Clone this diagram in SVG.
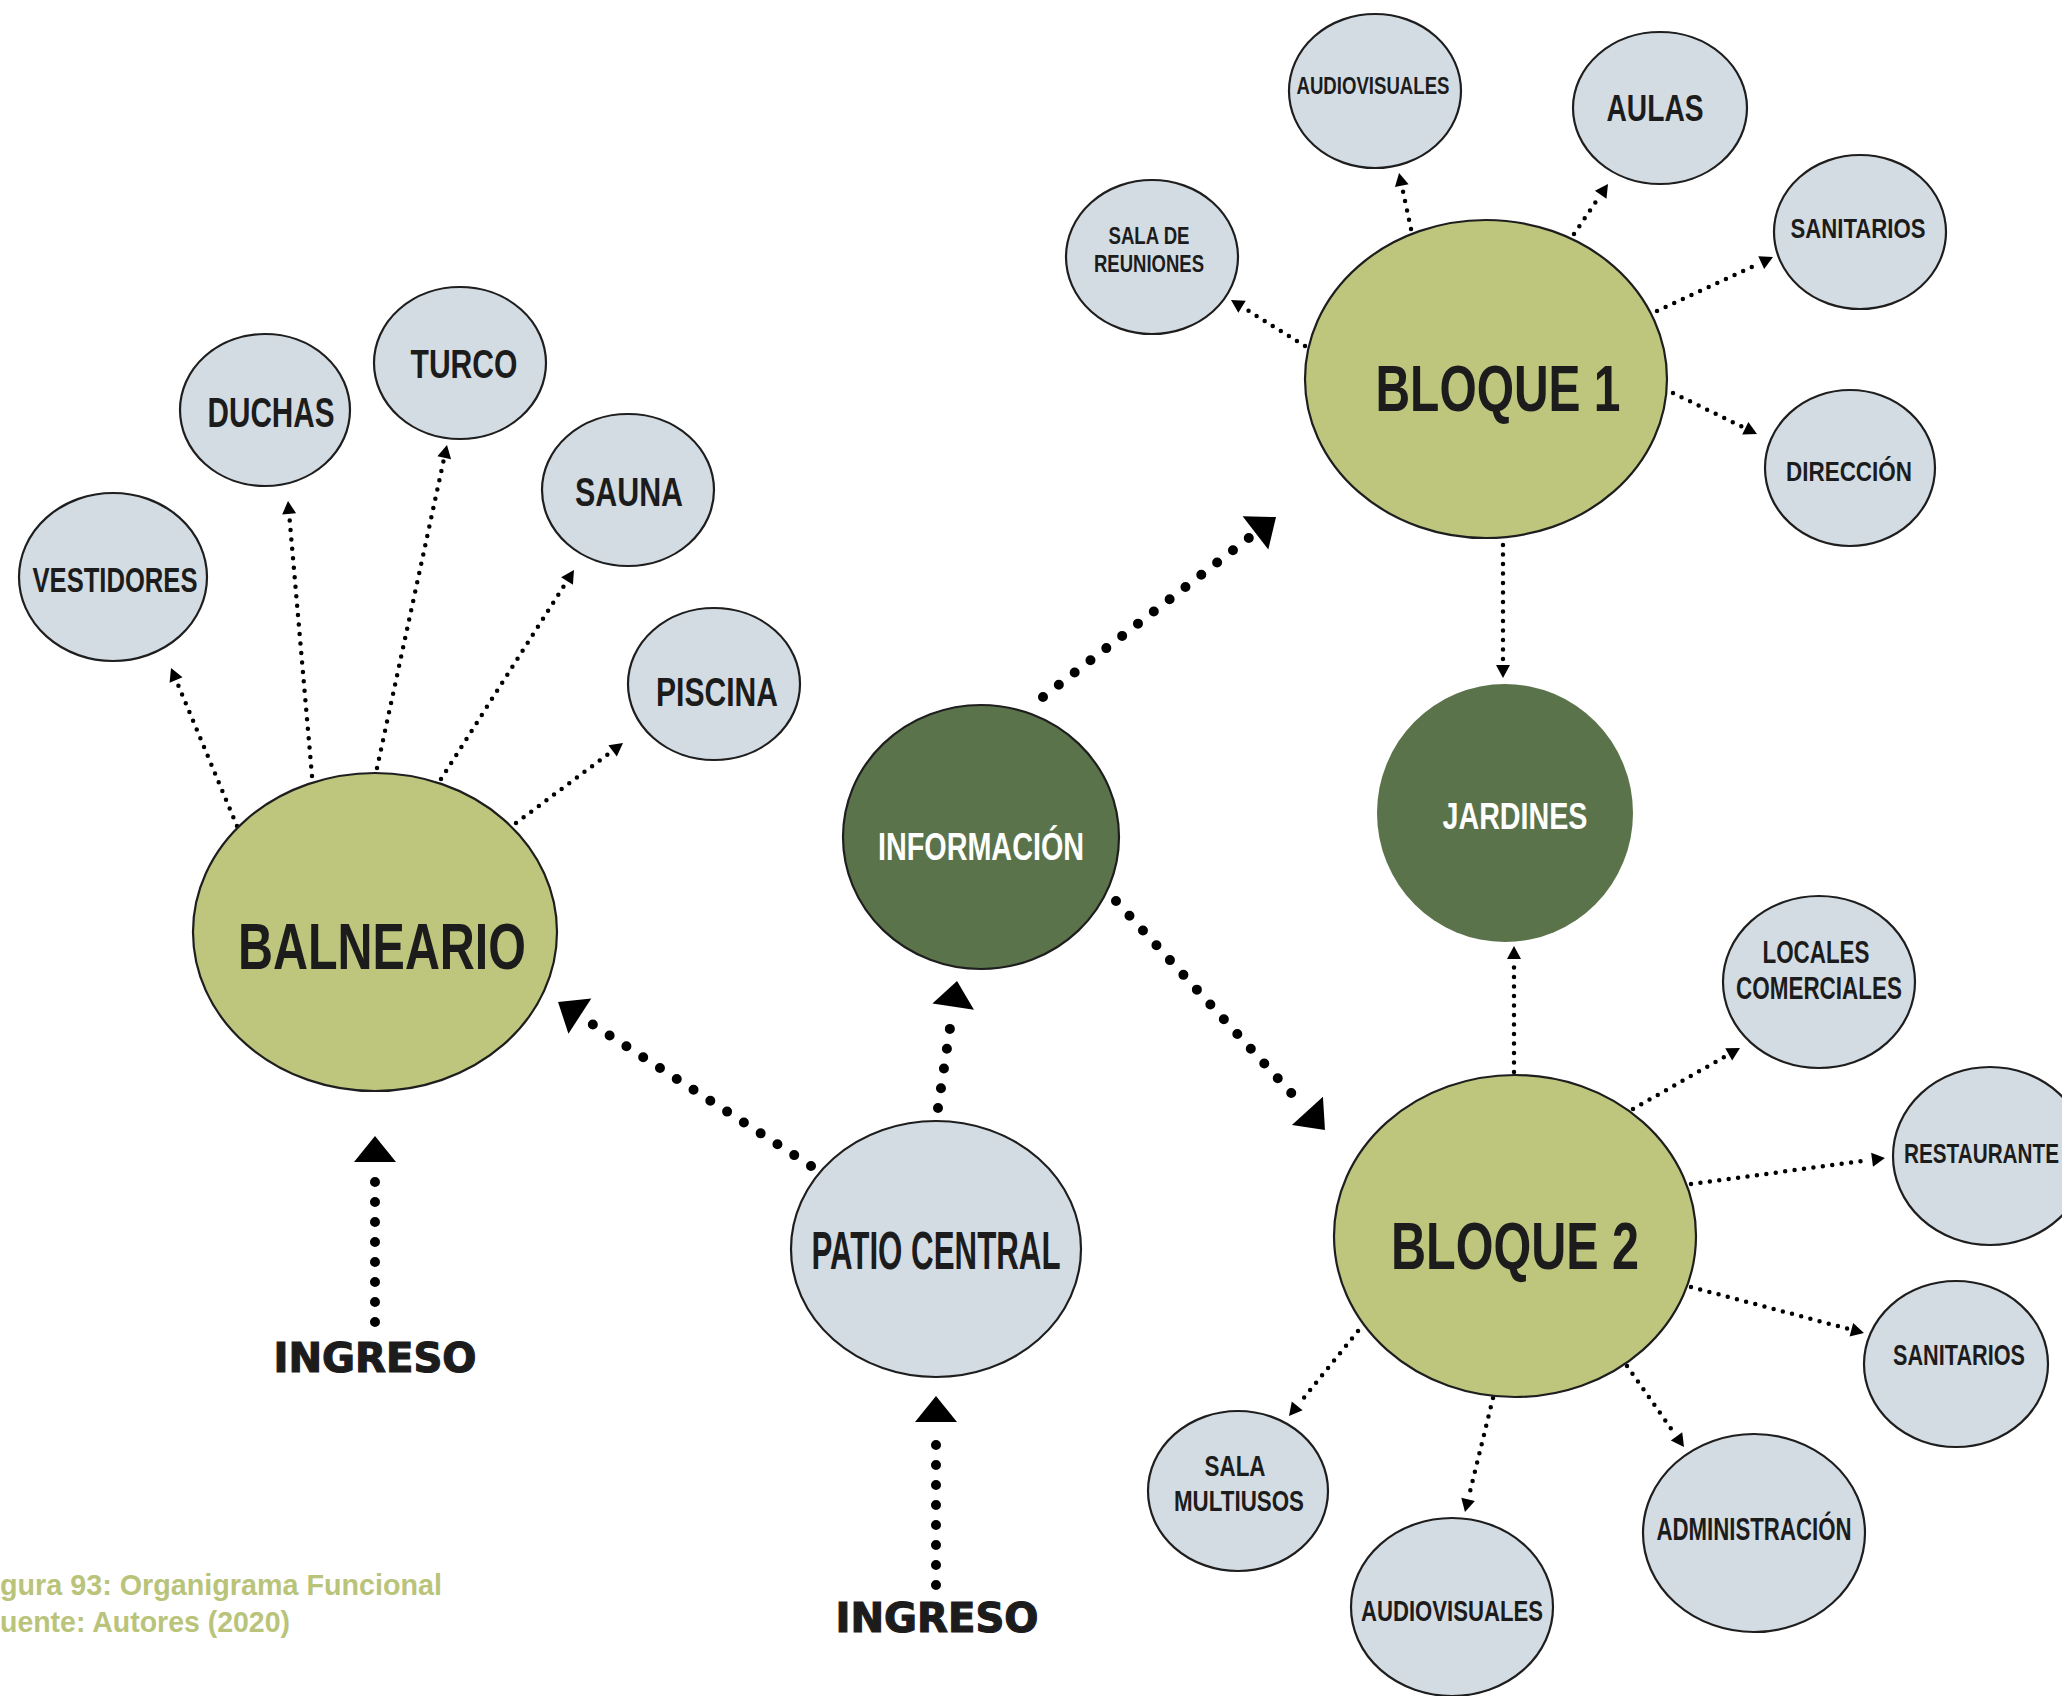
<svg xmlns="http://www.w3.org/2000/svg" width="2062" height="1696" viewBox="0 0 2062 1696">
<defs>
<style>
.n{stroke:#1e1e1e;stroke-width:2.2}
.g{fill:#d4dce3}
.o{fill:#bec67e}
.d{fill:#5b734a}
.t{font-family:"Liberation Sans Narrow","Liberation Sans",Arial,sans-serif;font-weight:bold;fill:#1c1c1c;text-anchor:middle}
.w{fill:#ffffff}
.in{font-family:"DejaVu Sans",Verdana,sans-serif;font-weight:bold;fill:#1c1c1c;stroke:#1c1c1c;stroke-width:1.2;text-anchor:middle;font-size:40px}
.cap{font-family:"Liberation Sans",Arial,sans-serif;font-weight:bold;fill:#b9c47a;font-size:30px}
.s{fill:none;stroke:#000;stroke-width:4.5;stroke-linecap:round;stroke-dasharray:0 9.5;marker-end:url(#ms)}
.b{fill:none;stroke:#000;stroke-width:10;stroke-linecap:round;stroke-dasharray:0 20;marker-end:url(#mb)}
</style>
<marker id="ms" markerUnits="userSpaceOnUse" markerWidth="18" markerHeight="16" refX="0" refY="7" orient="auto" viewBox="0 0 18 14">
<path d="M3,0 L16,7 L3,14 z" fill="#000"/>
</marker>
<marker id="mb" markerUnits="userSpaceOnUse" markerWidth="34" markerHeight="44" refX="0" refY="21" orient="auto" viewBox="0 0 34 42">
<path d="M6,0 L32,21 L6,42 z" fill="#000"/>
</marker>
</defs>
<rect width="2062" height="1696" fill="#ffffff"/>

<g id="connectors">
<line class="s" x1="237" y1="826" x2="177.2" y2="682.8"/>
<line class="s" x1="312" y1="776" x2="289.4" y2="516.9"/>
<line class="s" x1="377" y1="768" x2="443.6" y2="460.6"/>
<line class="s" x1="441" y1="779" x2="565.4" y2="583.5"/>
<line class="s" x1="516" y1="823" x2="610.2" y2="752.6"/>
<line class="s" x1="1305" y1="346" x2="1244.6" y2="308.4"/>
<line class="s" x1="1411" y1="229" x2="1402.4" y2="188.6"/>
<line class="s" x1="1574" y1="234" x2="1599" y2="197.2"/>
<line class="s" x1="1657" y1="311" x2="1758.5" y2="263.8"/>
<line class="s" x1="1673" y1="393" x2="1742.6" y2="427"/>
<line class="s" x1="1503" y1="545" x2="1503" y2="662"/>
<line class="s" x1="1514" y1="1072" x2="1514" y2="962"/>
<line class="s" x1="1633" y1="1109" x2="1726.1" y2="1055.9"/>
<line class="s" x1="1691" y1="1184" x2="1869.1" y2="1160.1"/>
<line class="s" x1="1691" y1="1287" x2="1848.5" y2="1328.9"/>
<line class="s" x1="1627" y1="1366" x2="1674.8" y2="1433.9"/>
<line class="s" x1="1493" y1="1398" x2="1468.8" y2="1496.5"/>
<line class="s" x1="1358" y1="1331" x2="1299.1" y2="1403.6"/>
<line class="b" x1="1043" y1="697" x2="1250.7" y2="536.6"/>
<line class="b" x1="1116" y1="901" x2="1303.4" y2="1106.4"/>
<line class="b" x1="938" y1="1108" x2="952.3" y2="1012.6"/>
<line class="b" x1="811" y1="1166" x2="584.9" y2="1019.4"/>
<line class="b" x1="375" y1="1322" x2="375" y2="1168"/>
<line class="b" x1="936" y1="1585" x2="936" y2="1428"/>
</g>

<g id="vestidores"><ellipse class="n g" cx="113" cy="577" rx="94" ry="84"/><text class="t" x="115" y="592" font-size="35" textLength="165" lengthAdjust="spacingAndGlyphs">VESTIDORES</text></g>
<g id="duchas"><ellipse class="n g" cx="265" cy="410" rx="85" ry="76"/><text class="t" x="271" y="427" font-size="42" textLength="127" lengthAdjust="spacingAndGlyphs">DUCHAS</text></g>
<g id="turco"><ellipse class="n g" cx="460" cy="363" rx="86" ry="76"/><text class="t" x="464" y="378" font-size="40" textLength="107" lengthAdjust="spacingAndGlyphs">TURCO</text></g>
<g id="sauna"><ellipse class="n g" cx="628" cy="490" rx="86" ry="76"/><text class="t" x="629" y="506" font-size="40" textLength="108" lengthAdjust="spacingAndGlyphs">SAUNA</text></g>
<g id="piscina"><ellipse class="n g" cx="714" cy="684" rx="86" ry="76"/><text class="t" x="717" y="706" font-size="40" textLength="122" lengthAdjust="spacingAndGlyphs">PISCINA</text></g>
<g id="balneario"><ellipse class="n o" cx="375" cy="932" rx="182" ry="159"/><text class="t" x="382" y="969" font-size="64" textLength="288" lengthAdjust="spacingAndGlyphs">BALNEARIO</text></g>

<g id="sala-reuniones"><ellipse class="n g" cx="1152" cy="257" rx="86" ry="77"/><text class="t" x="1149" y="244" font-size="23" textLength="81" lengthAdjust="spacingAndGlyphs">SALA DE</text><text class="t" x="1149" y="272" font-size="23" textLength="110" lengthAdjust="spacingAndGlyphs">REUNIONES</text></g>
<g id="audiovisuales-1"><ellipse class="n g" cx="1375" cy="91" rx="86" ry="77"/><text class="t" x="1373" y="94" font-size="23" textLength="153" lengthAdjust="spacingAndGlyphs">AUDIOVISUALES</text></g>
<g id="aulas"><ellipse class="n g" cx="1660" cy="108" rx="87" ry="76"/><text class="t" x="1655" y="121" font-size="36" textLength="97" lengthAdjust="spacingAndGlyphs">AULAS</text></g>
<g id="sanitarios-1"><ellipse class="n g" cx="1860" cy="232" rx="86" ry="77"/><text class="t" x="1858" y="238" font-size="27" textLength="135" lengthAdjust="spacingAndGlyphs">SANITARIOS</text></g>
<g id="direccion"><ellipse class="n g" cx="1850" cy="468" rx="85" ry="78"/><text class="t" x="1849" y="481" font-size="28" textLength="126" lengthAdjust="spacingAndGlyphs">DIRECCIÓN</text></g>
<g id="bloque-1"><ellipse class="n o" cx="1486" cy="379" rx="181" ry="159"/><text class="t" x="1498" y="411" font-size="65" textLength="245" lengthAdjust="spacingAndGlyphs">BLOQUE 1</text></g>

<g id="informacion"><ellipse class="n d" cx="981" cy="837" rx="138" ry="132"/><text class="t w" x="981" y="860" font-size="38" textLength="206" lengthAdjust="spacingAndGlyphs">INFORMACIÓN</text></g>
<g id="jardines"><ellipse class="d" cx="1505" cy="813" rx="128" ry="129"/><text class="t w" x="1515" y="829" font-size="37" textLength="145" lengthAdjust="spacingAndGlyphs">JARDINES</text></g>
<g id="patio-central"><ellipse class="n g" cx="936" cy="1249" rx="145" ry="128"/><text class="t" x="936" y="1269" font-size="53" textLength="249" lengthAdjust="spacingAndGlyphs">PATIO CENTRAL</text></g>

<g id="bloque-2"><ellipse class="n o" cx="1515" cy="1236" rx="181" ry="161"/><text class="t" x="1515" y="1269" font-size="66" textLength="248" lengthAdjust="spacingAndGlyphs">BLOQUE 2</text></g>
<g id="locales-comerciales"><ellipse class="n g" cx="1819" cy="982" rx="96" ry="86"/><text class="t" x="1816" y="963" font-size="31" textLength="107" lengthAdjust="spacingAndGlyphs">LOCALES</text><text class="t" x="1819" y="999" font-size="31" textLength="166" lengthAdjust="spacingAndGlyphs">COMERCIALES</text></g>
<g id="restaurante"><ellipse class="n g" cx="1990" cy="1156" rx="97" ry="89"/><text class="t" x="1904" y="1163" font-size="28" style="text-anchor:start" textLength="155" lengthAdjust="spacingAndGlyphs">RESTAURANTE</text></g>
<g id="sanitarios-2"><ellipse class="n g" cx="1956" cy="1364" rx="92" ry="83"/><text class="t" x="1959" y="1365" font-size="30" textLength="132" lengthAdjust="spacingAndGlyphs">SANITARIOS</text></g>
<g id="administracion"><ellipse class="n g" cx="1754" cy="1533" rx="111" ry="99"/><text class="t" x="1754" y="1540" font-size="31" textLength="195" lengthAdjust="spacingAndGlyphs">ADMINISTRACIÓN</text></g>
<g id="audiovisuales-2"><ellipse class="n g" cx="1452" cy="1607" rx="101" ry="89"/><text class="t" x="1452" y="1621" font-size="30" textLength="182" lengthAdjust="spacingAndGlyphs">AUDIOVISUALES</text></g>
<g id="sala-multiusos"><ellipse class="n g" cx="1238" cy="1491" rx="90" ry="80"/><text class="t" x="1235" y="1476" font-size="29" textLength="61" lengthAdjust="spacingAndGlyphs">SALA</text><text class="t" x="1239" y="1511" font-size="29" textLength="130" lengthAdjust="spacingAndGlyphs">MULTIUSOS</text></g>

<g id="ingreso-1"><text class="in" x="375" y="1372" textLength="203" lengthAdjust="spacingAndGlyphs">INGRESO</text></g>
<g id="ingreso-2"><text class="in" x="937" y="1632" textLength="203" lengthAdjust="spacingAndGlyphs">INGRESO</text></g>

<g id="caption">
<text class="cap" x="0" y="1595" textLength="442" lengthAdjust="spacingAndGlyphs">gura 93: Organigrama Funcional</text>
<text class="cap" x="0" y="1632" textLength="290" lengthAdjust="spacingAndGlyphs">uente: Autores (2020)</text>
</g>
</svg>
